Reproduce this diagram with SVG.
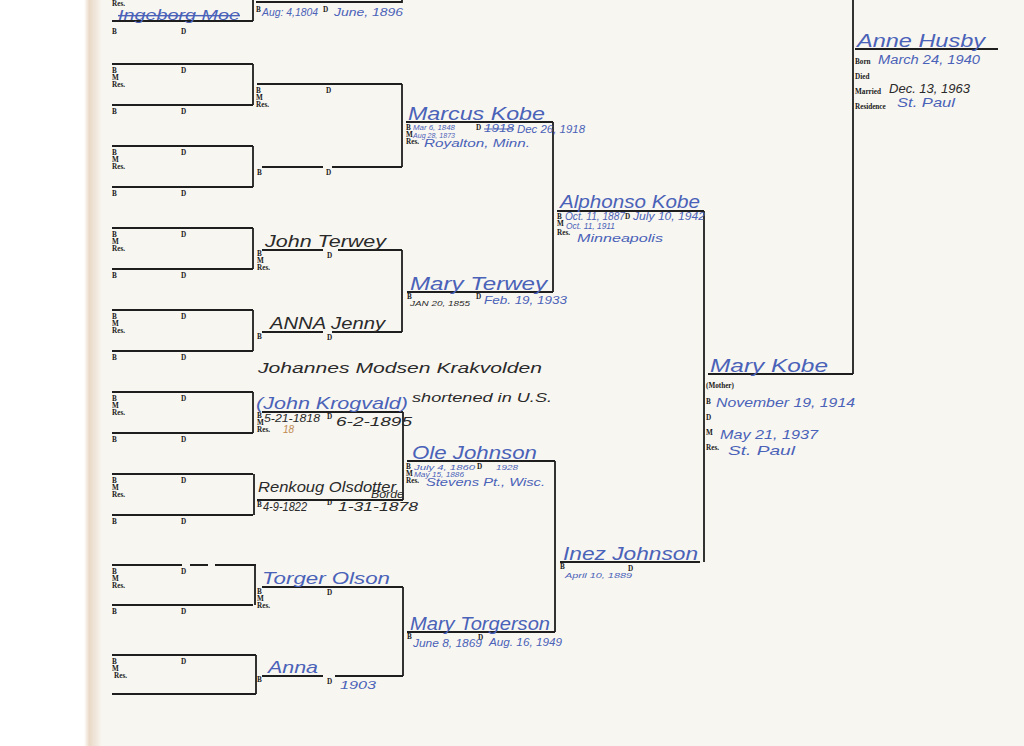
<svg xmlns="http://www.w3.org/2000/svg" xmlns:xlink="http://www.w3.org/1999/xlink" width="1024" height="746" viewBox="0 0 1024 746">
<style>
.ln{stroke:#1e1e1e;stroke-width:2;fill:none}
.cn{stroke:#1e1e1e;stroke-width:1.8;fill:none}
.lb{font-family:"Liberation Serif",serif;font-weight:bold;font-size:7.2px;fill:#1a1a1a}
.bl{font-family:"Liberation Sans",sans-serif;font-style:italic;fill:#4a62b8}
.bk{font-family:"Liberation Sans",sans-serif;font-style:italic;fill:#2a2a2a}
.n{font-size:17px}
.d{font-size:10px}
.s{font-size:8px}
</style>
<defs>
<linearGradient id="edge" x1="0" x2="1" y1="0" y2="0">
<stop offset="0" stop-color="#ffffff"/>
<stop offset="0.3" stop-color="#e9d9c6"/>
<stop offset="1" stop-color="#f8f6f1"/>
</linearGradient>
<g id="fat">
<path class="ln" d="M0 0H141"/>
<text class="lb" x="0" y="9">B</text><text class="lb" x="69" y="9">D</text>
<text class="lb" x="0" y="15.5">M</text><text class="lb" x="0" y="23">Res.</text>
</g>
<g id="mot">
<path class="ln" d="M0 0H141"/>
<text class="lb" x="0" y="9">B</text><text class="lb" x="69" y="9">D</text>
</g>
</defs>
<rect width="1024" height="746" fill="#ffffff"/>
<rect x="88" width="936" height="746" fill="#f8f6f1"/>
<rect x="84" width="18" height="746" fill="url(#edge)"/>

<g id="connectors">
<path class="cn" d="M253 0V21M253 64V105M253 146V187M253 228V269M253 310V351M253 392V433M254 474V515M255 565V605M256 655V694"/>
<path class="cn" d="M402 0V3M402 84V167M402 250V332M403 412V500M403 587V676"/>
<path class="cn" d="M553 122V292M555 461V632"/>
<path class="cn" d="M704 211V562"/>
<path class="cn" d="M853 0V374"/>
</g>

<!-- Generation 5 -->
<g id="g5-1">
<text class="lb" x="112" y="6">Res.</text>
</g>
<g id="g5-2">
<path class="ln" d="M112 21H253"/>
<text class="bl" font-size="14" x="118" y="20" textLength="122" lengthAdjust="spacingAndGlyphs" text-decoration="line-through" fill="#6a7ab0">Ingeborg Moe</text>
<text class="lb" x="112" y="34">B</text><text class="lb" x="181" y="34">D</text>
</g>
<g id="g5-3"><use xlink:href="#fat" x="112" y="64"/></g>
<g id="g5-4"><use xlink:href="#mot" x="112" y="105"/></g>
<g id="g5-5"><use xlink:href="#fat" x="112" y="146"/></g>
<g id="g5-6"><use xlink:href="#mot" x="112" y="187"/></g>
<g id="g5-7"><use xlink:href="#fat" x="112" y="228"/></g>
<g id="g5-8"><use xlink:href="#mot" x="112" y="269"/></g>
<g id="g5-9"><use xlink:href="#fat" x="112" y="310"/></g>
<g id="g5-10"><use xlink:href="#mot" x="112" y="351"/></g>
<g id="g5-11"><use xlink:href="#fat" x="112" y="392"/></g>
<g id="g5-12"><use xlink:href="#mot" x="112" y="433"/></g>
<g id="g5-13"><use xlink:href="#fat" x="112" y="474"/></g>
<g id="g5-14"><use xlink:href="#mot" x="112" y="515"/></g>
<g id="g5-15">
<path class="ln" d="M112 565H182M190 565H208M215 565H256"/>
<text class="lb" x="112" y="574">B</text><text class="lb" x="181" y="574">D</text>
<text class="lb" x="112" y="580.5">M</text><text class="lb" x="112" y="588">Res.</text>
</g>
<g id="g5-16"><use xlink:href="#mot" x="112" y="605"/></g>
<g id="g5-17">
<path class="ln" d="M112 655H256"/>
<text class="lb" x="112" y="664">B</text><text class="lb" x="181" y="664">D</text>
<text class="lb" x="112" y="670.5">M</text><text class="lb" x="114" y="678">Res.</text>
</g>
<g id="g5-18"><path class="ln" d="M112 694H256"/></g>

<!-- Generation 4 -->
<g id="g4-1">
<path class="ln" d="M256 2H402"/>
<text class="lb" x="256" y="12">B</text>
<text class="bl d" x="262" y="16" textLength="56" lengthAdjust="spacingAndGlyphs">Aug: 4,1804</text>
<text class="lb" x="323" y="12">D</text>
<text class="bl d" x="334" y="16" textLength="69" lengthAdjust="spacingAndGlyphs">June, 1896</text>
</g>
<g id="g4-2">
<path class="ln" d="M257 84H402"/>
<text class="lb" x="256" y="93">B</text><text class="lb" x="326" y="93">D</text>
<text class="lb" x="256" y="99.5">M</text><text class="lb" x="256" y="107">Res.</text>
</g>
<g id="g4-3">
<path class="ln" d="M262 167H323M332 167H402"/>
<text class="lb" x="257" y="175">B</text><text class="lb" x="326" y="175">D</text>
</g>
<g id="g4-4">
<path class="ln" d="M262 250H323M338 250H402"/>
<text class="bk n" x="265" y="247" textLength="121" lengthAdjust="spacingAndGlyphs">John Terwey</text>
<text class="lb" x="257" y="256">B</text><text class="lb" x="327" y="258">D</text>
<text class="lb" x="257" y="262.5">M</text><text class="lb" x="257" y="270">Res.</text>
</g>
<g id="g4-5">
<path class="ln" d="M262 332H323M332 332H402"/>
<text class="bk n" x="270" y="329" textLength="115" lengthAdjust="spacingAndGlyphs">ANNA Jenny</text>
<text class="lb" x="257" y="339">B</text><text class="lb" x="327" y="340">D</text>
</g>
<g id="g4-6">
<text class="bk" font-size="14" x="258" y="373" textLength="284" lengthAdjust="spacingAndGlyphs">Johannes Modsen Krakvolden</text>
<path class="ln" d="M262 412H403"/>
<text class="bl n" x="256" y="409" textLength="152" lengthAdjust="spacingAndGlyphs">(John Krogvald)</text>
<text class="bk" font-size="12" x="412" y="402" textLength="140" lengthAdjust="spacingAndGlyphs">shortened in U.S.</text>
<text class="lb" x="257" y="418">B</text><text class="lb" x="327" y="419">D</text>
<text class="lb" x="257" y="424.5">M</text><text class="lb" x="257" y="432">Res.</text>
<text class="bk d" x="264" y="422" textLength="56" lengthAdjust="spacingAndGlyphs">5-21-1818</text>
<text class="bk" font-size="12" x="336" y="426" textLength="76" lengthAdjust="spacingAndGlyphs">6-2-1895</text>
<text class="d" font-family="Liberation Sans,sans-serif" font-style="italic" fill="#c08a50" x="283" y="433">18</text>
</g>
<g id="g4-7">
<path class="ln" d="M257 500H403"/>
<text class="bk" font-size="14" x="258" y="492" textLength="138" lengthAdjust="spacingAndGlyphs">Renkoug Olsdotter</text>
<text class="bk" font-size="10" x="371" y="498" textLength="33" lengthAdjust="spacingAndGlyphs">Borde</text>
<text class="lb" x="257" y="507">B</text><text class="lb" x="327" y="505">D</text>
<text class="bk" font-size="12" x="263" y="511" textLength="44" lengthAdjust="spacingAndGlyphs">4-9-1822</text>
<text class="bk" font-size="12" x="338" y="511" textLength="80" lengthAdjust="spacingAndGlyphs">1-31-1878</text>
</g>
<g id="g4-8">
<path class="ln" d="M262 587H403"/>
<text class="bl n" x="262" y="584" textLength="128" lengthAdjust="spacingAndGlyphs">Torger Olson</text>
<text class="lb" x="257" y="594">B</text><text class="lb" x="327" y="595">D</text>
<text class="lb" x="257" y="600.5">M</text><text class="lb" x="257" y="608">Res.</text>
</g>
<g id="g4-9">
<path class="ln" d="M262 676H323M335 676H403"/>
<text class="bl n" x="268" y="673" textLength="50" lengthAdjust="spacingAndGlyphs">Anna</text>
<text class="lb" x="257" y="682">B</text><text class="lb" x="327" y="684">D</text>
<text class="bl d" x="340" y="689" textLength="36" lengthAdjust="spacingAndGlyphs">1903</text>
</g>

<!-- Generation 3 -->
<g id="g3-marcus">
<path class="ln" d="M406 122H553"/>
<text class="bl" font-size="18" x="408" y="120" textLength="137" lengthAdjust="spacingAndGlyphs">Marcus Kobe</text>
<text class="lb" x="406" y="130">B</text><text class="lb" x="476" y="130">D</text>
<text class="lb" x="406" y="136.5">M</text><text class="lb" x="406" y="144">Res.</text>
<text class="bl s" x="413" y="130" textLength="42" lengthAdjust="spacingAndGlyphs">Mar 6, 1848</text>
<text class="bl d" x="484" y="132" textLength="30" lengthAdjust="spacingAndGlyphs" text-decoration="line-through">1918</text>
<text class="bl d" x="517" y="133" textLength="68" lengthAdjust="spacingAndGlyphs">Dec 26, 1918</text>
<text class="bl s" x="413" y="138" textLength="42" lengthAdjust="spacingAndGlyphs">Aug 28, 1873</text>
<text class="bl d" x="424" y="147" textLength="106" lengthAdjust="spacingAndGlyphs">Royalton, Minn.</text>
</g>
<g id="g3-maryterwey">
<path class="ln" d="M407 292H553"/>
<text class="bl" font-size="18" x="410" y="290" textLength="137" lengthAdjust="spacingAndGlyphs">Mary Terwey</text>
<text class="lb" x="407" y="299">B</text><text class="lb" x="476" y="299">D</text>
<text class="bk s" x="410" y="306" textLength="60" lengthAdjust="spacingAndGlyphs">JAN 20, 1855</text>
<text class="bl d" x="484" y="304" textLength="83" lengthAdjust="spacingAndGlyphs">Feb. 19, 1933</text>
</g>
<g id="g3-ole">
<path class="ln" d="M407 461H555"/>
<text class="bl" font-size="18" x="412" y="459" textLength="125" lengthAdjust="spacingAndGlyphs">Ole Johnson</text>
<text class="lb" x="406" y="469">B</text><text class="lb" x="477" y="469">D</text>
<text class="lb" x="406" y="475.5">M</text><text class="lb" x="406" y="483">Res.</text>
<text class="bl s" x="414" y="470" textLength="61" lengthAdjust="spacingAndGlyphs">July 4, 1860</text>
<text class="bl s" x="496" y="470" textLength="22" lengthAdjust="spacingAndGlyphs">1928</text>
<text class="bl" font-size="6.5" x="414" y="477" textLength="50" lengthAdjust="spacingAndGlyphs">May 15, 1886</text>
<text class="bl d" x="426" y="486" textLength="119" lengthAdjust="spacingAndGlyphs">Stevens Pt., Wisc.</text>
</g>
<g id="g3-marytorgerson">
<path class="ln" d="M407 632H555"/>
<text class="bl" font-size="18" x="410" y="630" textLength="140" lengthAdjust="spacingAndGlyphs">Mary Torgerson</text>
<text class="lb" x="407" y="639">B</text><text class="lb" x="478" y="640">D</text>
<text class="bl d" x="413" y="647" textLength="69" lengthAdjust="spacingAndGlyphs">June 8, 1869</text>
<text class="bl d" x="489" y="646" textLength="73" lengthAdjust="spacingAndGlyphs">Aug. 16, 1949</text>
</g>

<!-- Generation 2 -->
<g id="g2-alphonso">
<path class="ln" d="M557 211H704"/>
<text class="bl" font-size="18" x="560" y="208" textLength="140" lengthAdjust="spacingAndGlyphs">Alphonso Kobe</text>
<text class="lb" x="557" y="219">B</text><text class="lb" x="625" y="219">D</text>
<text class="lb" x="557" y="225.5">M</text><text class="lb" x="557" y="235">Res.</text>
<text class="bl d" x="565" y="220" textLength="60" lengthAdjust="spacingAndGlyphs">Oct. 11, 1887</text>
<text class="bl d" x="633" y="220" textLength="72" lengthAdjust="spacingAndGlyphs">July 10, 1942</text>
<text class="bl" font-size="9" x="566" y="229" textLength="49" lengthAdjust="spacingAndGlyphs">Oct. 11, 1911</text>
<text class="bl d" x="577" y="242" textLength="86" lengthAdjust="spacingAndGlyphs">Minneapolis</text>
</g>
<g id="g2-inez">
<path class="ln" d="M560 562H700"/>
<text class="bl" font-size="18" x="563" y="560" textLength="135" lengthAdjust="spacingAndGlyphs">Inez Johnson</text>
<text class="lb" x="560" y="569">B</text><text class="lb" x="628" y="571">D</text>
<text class="bl s" x="565" y="578" textLength="67" lengthAdjust="spacingAndGlyphs">April 10, 1889</text>
</g>

<!-- Generation 1 -->
<g id="g1-marykobe">
<path class="ln" d="M708 374H853"/>
<text class="bl" font-size="18" x="710" y="372" textLength="118" lengthAdjust="spacingAndGlyphs">Mary Kobe</text>
<text class="lb" x="706" y="388">(Mother)</text>
<text class="lb" x="706" y="404">B</text>
<text class="lb" x="706" y="420">D</text>
<text class="lb" x="706" y="435">M</text>
<text class="lb" x="706" y="450">Res.</text>
<text class="bl" font-size="13" x="716" y="407" textLength="139" lengthAdjust="spacingAndGlyphs">November 19, 1914</text>
<text class="bl" font-size="13" x="720" y="439" textLength="98" lengthAdjust="spacingAndGlyphs">May 21, 1937</text>
<text class="bl" font-size="13" x="728" y="455" textLength="67" lengthAdjust="spacingAndGlyphs">St. Paul</text>
</g>
<g id="g1-annehusby">
<path class="ln" d="M855 49H998"/>
<text class="bl" font-size="18" x="857" y="47" textLength="128" lengthAdjust="spacingAndGlyphs">Anne Husby</text>
<text class="lb" x="855" y="64">Born</text>
<text class="lb" x="855" y="79">Died</text>
<text class="lb" x="855" y="94">Married</text>
<text class="lb" x="855" y="109">Residence</text>
<text class="bl" font-size="12" x="878" y="64" textLength="102" lengthAdjust="spacingAndGlyphs">March 24, 1940</text>
<text class="bk" font-size="12" x="889" y="93" textLength="81" lengthAdjust="spacingAndGlyphs">Dec. 13, 1963</text>
<text class="bl" font-size="13" x="897" y="107" textLength="58" lengthAdjust="spacingAndGlyphs">St. Paul</text>
</g>
</svg>
